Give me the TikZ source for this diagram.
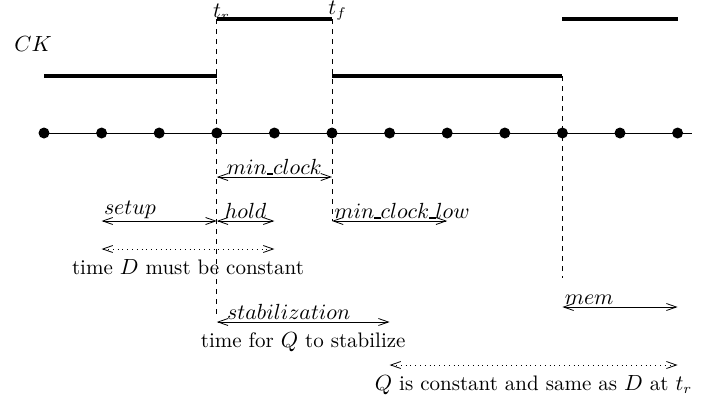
\documentclass[tikz,border=0pt]{standalone}
\usepackage{amsmath}
\usetikzlibrary{arrows.meta,positioning}
\newcommand{\sepbar}{\mbox{\rule{3.2pt}{0.6pt}}}

\begin{document}
\begin{tikzpicture} [x=0.5pt,y=-0.5pt,>={Straight Barb[length=5pt,width=3.5pt]},line width=0.4pt,
  every node/.style={font=\fontsize{10.5}{12.6}\selectfont},
  dot/.style={circle,fill,inner sep=0pt,minimum size=5.5pt},
  clk/.style={line width=2pt},
  guide/.style={dash pattern=on 2.5pt off 2.5pt},
  span/.style={<->},
  window/.style={<->,dotted},
  lbl/.style={inner sep=1pt},
  note/.style={inner sep=1pt,yshift=-4pt}]
  \useasboundingbox (0,0) rectangle (712,404);

  % time axis with its ticks
  \foreach \i in {0,...,11}
    \node[dot] (d\i) at (44+57.6*\i,133) {};
  \coordinate (axisend) at (692,133);
  \draw[line width=0.5pt] (d0.center) -- (axisend);

  % clock CK
  \node[lbl,anchor=west] (ck) at (12,44) {$CK$};
  \coordinate (tr) at (d3 |- 0,19);
  \coordinate (tf) at (d5 |- 0,19);
  \coordinate (tn) at (d9 |- 0,19);
  \draw[clk] (d0 |- 0,76) -- (d3 |- 0,76);
  \draw[clk] (tr) -- (tf);
  \draw[clk] (d5 |- 0,76) -- (d9 |- 0,76);
  \draw[clk] (tn) -- (d11 |- 0,19);
  \node[inner sep=0pt,anchor=south west,xshift=-2pt,yshift=-1pt] (trlbl) at (tr) {$t_r$};
  \node[inner sep=0pt,anchor=south west,xshift=-2pt,yshift=-1pt] (tflbl) at (tf) {$t_f$};

  % edges
  \draw[guide] (tr) -- (d3 |- 0,318);
  \draw[guide] (tf) -- (d5 |- 0,221);
  \draw[guide] (d9 |- 0,76) -- (d9 |- 0,278);

  % timing intervals
  \draw[span] (d3 |- 0,177) -- node[lbl,above] {$min\sepbar clock$} (d5 |- 0,177);
  \draw[span] (d1 |- 0,221) -- (d3 |- 0,221)
    node[lbl,pos=0,anchor=south west] {$setup$};
  \draw[span] (d3 |- 0,221) -- node[lbl,above] {$hold$} (d4 |- 0,221);
  \draw[span] (d5 |- 0,221) -- (d7 |- 0,221)
    node[lbl,pos=0,anchor=south west] {$min\sepbar clock\sepbar low$};
  \draw[window] (d1 |- 0,249) -- node[note,below] {time $D$ must be constant} (d4 |- 0,249);
  \draw[span] (d3 |- 0,322) -- (d6 |- 0,322)
    node[lbl,pos=0,anchor=south west,xshift=4pt] {$stabilization$}
    node[note,midway,below] {time for $Q$ to stabilize};
  \draw[span] (d9 |- 0,307) -- (d11 |- 0,307)
    node[lbl,pos=0,anchor=south west] {$mem$};
  \draw[window] (d6 |- 0,365) -- node[note,below] {$Q$ is constant and same as $D$ at $t_r$} (d11 |- 0,365);
\end{tikzpicture}
\end{document}
